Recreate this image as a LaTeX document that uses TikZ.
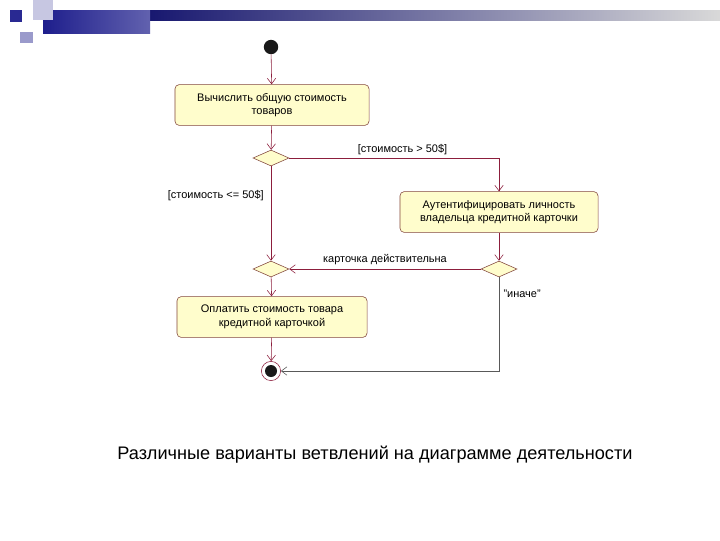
\documentclass[tikz,border=0pt]{standalone}
\usepackage{fontspec}
\setmainfont{Liberation Sans}
\usetikzlibrary{positioning,arrows.meta,shapes.geometric}
\definecolor{cLine}{RGB}{140,30,60}
\definecolor{cBox}{RGB}{130,70,60}
\definecolor{cFill}{RGB}{255,253,204}
\definecolor{cDeco}{RGB}{30,30,140}

\begin{document}
\begin{tikzpicture}[x=0.025cm,y=-0.025cm,
   action/.style={draw=cBox,fill=cFill,rounded corners=3pt,minimum width=4.85cm,minimum height=1.02cm,
                  align=center,font=\fontsize{7.8}{9.7}\selectfont,inner sep=1pt},
   choice/.style={diamond,draw=cBox,fill=cFill,minimum width=0.9cm,minimum height=0.4cm,inner sep=0pt},
   flow/.style={draw=cLine,-{Straight Barb[length=4pt,width=6pt]}},
   guard/.style={font=\fontsize{7.8}{9.7}\selectfont,inner sep=1pt}]
 \useasboundingbox (0,0) rectangle (720,540);
 % slide decoration
 \shade[left color=cDeco!80!black,right color=black!15] (150,10) rectangle (720,20);
 \shade[left color=cDeco,right color=cDeco!70!white] (43,10) rectangle (150,33);
 \fill[cDeco!25] (33,0) rectangle (53,20);
 \fill[cDeco!45] (20,32) rectangle (33,43);
 \fill[cDeco!95] (10,10) rectangle (22,22);
 % nodes
 \node[circle,fill=black!90,minimum size=0.36cm,inner sep=0pt] (start) at (271,47) {};
 \node[action] (calc) at (272,105) {Вычислить общую стоимость\\товаров};
 \node[choice] (d1) at (271,158) {};
 \node[action,minimum width=4.95cm] (auth) at (499,212) {Аутентифицировать личность\\владельца кредитной карточки};
 \node[choice] (d2) at (271,269) {};
 \node[choice] (d3) at (499,269) {};
 \node[action,minimum width=4.75cm] (pay) at (272,317) {Оплатить стоимость товара\\кредитной карточкой};
 \node[circle,draw=cLine,fill=white,minimum size=0.48cm,inner sep=0pt] (stop) at (271,371) {};
 \node[circle,fill=black!90,minimum size=0.3cm,inner sep=0pt] at (stop) {};
 % flows
 \draw[flow] (start) -- (calc);
 \draw[flow] (calc) -- (d1);
 \draw[flow] (d1.east) -| (auth.north) node[guard,pos=0.27,above=1pt] {[стоимость > 50\$]};
 \draw[flow] (d1) -- (d2) node[guard,pos=0.31,left=4pt] {[стоимость <= 50\$]};
 \draw[flow] (auth) -- (d3);
 \draw[flow] (d3.west) -- (d2.east) node[guard,midway,above=2pt] {карточка действительна};
 \draw[flow] (d2) -- (pay);
 \draw[flow] (pay) -- (stop);
 \draw[flow,draw=black!65] (d3.south) |- (stop.east);
 \node[guard,right=2pt] at (499,294) {"иначе"};
 % caption
 \node[font=\fontsize{12.9}{15}\selectfont] (caption) at (375,455) {Различные варианты ветвлений на диаграмме деятельности};
\end{tikzpicture}
\end{document}
